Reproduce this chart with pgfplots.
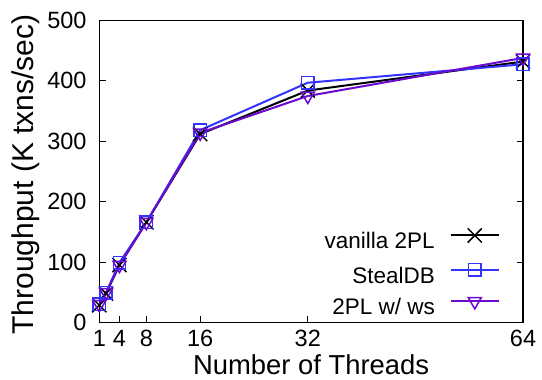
\documentclass[border=0pt]{standalone}
\usepackage{fontspec}
\setmainfont{Liberation Sans}
\usepackage{pgfplots}
\pgfplotsset{compat=1.18}
\definecolor{cblue}{RGB}{51,51,255}
\definecolor{cpurple}{RGB}{106,10,208}
\begin{document}
\begin{tikzpicture}
\begin{axis}[
  scale only axis,
  width=423.7bp, height=302bp,
  xmin=1, xmax=64, ymin=0, ymax=500,
  xtick={1,4,8,16,32,64},
  ytick={0,100,200,300,400,500},
  xtick pos=bottom,
  ytick pos=both,
  tick align=inside,
  major tick length=6.5bp,
  axis line style={line width=1.1bp},
  every tick/.style={line width=1bp, black},
  /pgf/number format/assume math mode=true,
  ticklabel style={font=\fontsize{23.5bp}{26bp}\selectfont, inner sep=0pt},
  yticklabel style={anchor=east, xshift=-12.6bp},
  xticklabel style={anchor=base, yshift=-24bp},
  xlabel={Number of Threads},
  ylabel={Throughput (K txns/sec)},
  xlabel style={font=\fontsize{27.4bp}{30bp}\selectfont, at={(axis description cs:0.5,-0.1715)}, anchor=base, inner sep=0pt},
  ylabel style={font=\fontsize{30bp}{33bp}\selectfont, at={(axis description cs:-0.1558,0.49)}, anchor=base, inner sep=0pt, rotate=0},
  legend plot pos=right,
  legend cell align=right,
  legend style={draw=none, fill=none, inner sep=0pt, at={(axis description cs:0.9457,0.3123)}, anchor=north east,
    font=\fontsize{22.5bp}{25bp}\selectfont,
    nodes={inner sep=0pt, text height=16bp, text depth=5bp},
    column sep=15bp, row sep=9.5bp},
  legend image code/.code={
    \draw[#1, mark=none] (0bp,8bp) -- (48bp,8bp);
    \draw[#1, only marks] plot coordinates {(24bp,8bp)};
  },
]
\addplot[black, line width=2bp, mark=x, mark size=10bp, mark options={line width=1.5bp}]
  coordinates {(1,28.7) (2,48) (4,95) (8,166) (16,312) (32,384) (64,432)};
\addlegendentry{vanilla 2PL}
\addplot[cblue, line width=2bp, mark=square, mark size=6.2bp, mark options={line width=1.5bp}]
  coordinates {(1,30) (2,49) (4,99) (8,166) (16,318.5) (32,397) (64,427.5)};
\addlegendentry{StealDB}
\addplot[cpurple, line width=2bp, mark=triangle, mark size=7.5bp, mark options={line width=1.5bp, rotate=180}]
  coordinates {(1,30) (2,50) (4,95) (8,166) (16,314) (32,375) (64,438)};
\addlegendentry{2PL w/ ws}
\end{axis}
\path ([xshift=-99.3bp,yshift=-56.5bp]current axis.south west) rectangle ([xshift=19bp,yshift=20.5bp]current axis.north east);
\end{tikzpicture}
\end{document}
